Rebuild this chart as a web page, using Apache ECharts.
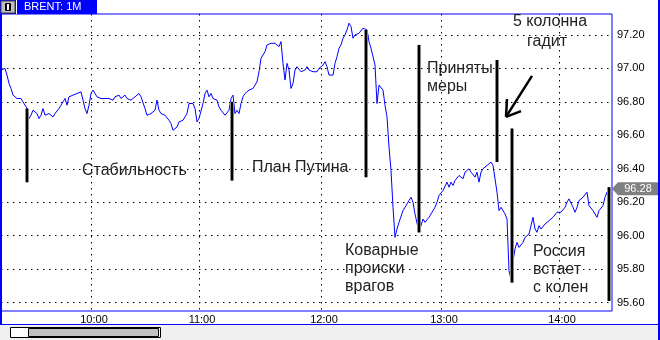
<!DOCTYPE html>
<html><head><meta charset="utf-8">
<script src="https://cdn.jsdelivr.net/npm/echarts@6/dist/echarts.min.js"></script>
<style>html,body{margin:0;padding:0;background:#fff}#c{width:660px;height:340px}</style>
</head><body><div id="c"></div>
<script>
// 1-minute bars of BRENT, index 0..304
const prices = [
 96.99,97.00,97.00,96.96,96.91,96.88,96.84,96.83,96.82,96.82,
 96.82,96.80,96.78,96.76,96.70,96.72,96.75,96.75,96.73,96.70,
 96.72,96.76,96.72,96.72,96.73,96.72,96.71,96.73,96.74,96.76,
 96.78,96.80,96.82,96.78,96.83,96.82,96.84,96.83,96.85,96.85,
 96.86,96.81,96.76,96.73,96.78,96.85,96.87,96.87,96.83,96.82,
 96.82,96.81,96.82,96.81,96.82,96.82,96.81,96.83,96.82,96.84,
 96.82,96.83,96.84,96.82,96.82,96.81,96.81,96.83,96.84,96.85,
 96.83,96.82,96.76,96.72,96.71,96.73,96.74,96.75,96.81,96.75,
 96.73,96.72,96.72,96.71,96.69,96.67,96.63,96.63,96.65,96.68,
 96.69,96.69,96.71,96.73,96.79,96.80,96.79,96.76,96.68,96.70,
 96.71,96.79,96.85,96.87,96.83,96.85,96.82,96.82,96.81,96.77,
 96.75,96.74,96.72,96.73,96.75,96.82,96.84,96.73,96.75,96.73,
 96.79,96.83,96.85,96.86,96.87,96.88,96.88,96.90,96.92,96.98,
 97.06,97.08,97.10,97.14,97.15,97.15,97.16,97.15,97.15,97.13,
 97.16,97.03,96.93,97.03,96.99,96.88,96.91,96.99,97.01,97.00,
 96.98,96.97,96.99,97.01,96.99,97.00,96.98,96.98,96.98,97.00,
 97.01,97.02,97.04,97.01,96.96,96.96,96.96,97.03,97.07,97.12,
 97.14,97.18,97.20,97.23,97.27,97.25,97.18,97.20,97.21,97.21,
 97.22,97.24,97.24,97.23,97.16,97.12,97.11,97.02,96.79,96.90,
 96.89,96.87,96.78,96.71,96.53,96.39,96.17,95.99,96.04,96.08,
 96.08,96.15,96.17,96.17,96.21,96.23,96.20,96.13,96.14,96.02,
 96.06,96.10,96.08,96.08,96.11,96.13,96.15,96.17,96.20,96.24,
 96.24,96.27,96.27,96.32,96.29,96.32,96.30,96.33,96.32,96.36,
 96.35,96.34,96.38,96.39,96.40,96.38,96.39,96.35,96.38,96.32,
 96.38,96.40,96.41,96.42,96.41,96.44,96.42,96.43,96.26,96.15,
 96.17,96.18,96.13,96.10,95.79,95.74,95.85,95.92,95.96,95.93,
 95.94,95.96,95.99,95.98,96.01,96.02,96.11,96.04,96.02,96.06,
 96.04,96.05,96.07,96.08,96.09,96.09,96.11,96.11,96.14,96.13,
 96.14,96.14,96.17,96.20,96.22,96.21,96.17,96.14,96.17,96.21,
 96.21,96.23,96.24,96.26,96.18,96.17,96.15,96.14,96.11,96.15,
 96.16,96.18,96.23,96.26,96.28
];
const yTicks = [95.6, 95.8, 96.0, 96.2, 96.4, 96.6, 96.8, 97.0, 97.2];
const hourTicks = [45, 99, 160, 220, 279];
const hourLabels = ['10:00', '11:00', '12:00', '13:00', '14:00'];
// hand-drawn marker strokes: bar, top price, bottom price
const markerBars   = [13,    115.5, 182.5, 209,   248,   255.5, 304];
const markerTop    = [96.76, 96.80, 97.23, 97.14, 97.05, 96.64, 96.29];
const markerBottom = [96.32, 96.33, 96.35, 96.02, 96.44, 95.72, 95.61];
// arrow: tail, tip, two barbs  [bar, price]
const arrowTail = [265.5, 96.955];
const arrowTip  = [252.5, 96.71];
const arrowBarb1 = [253, 96.817];
const arrowBarb2 = [260, 96.745];
const notes = [
  ['Стабильность', 82, 171],
  ['План Путина', 252, 168],
  ['Коварные', 345, 251], ['происки', 345, 269], ['врагов', 345, 287],
  ['Приняты', 427, 69], ['меры', 427, 87],
  ['5 колонна', 513, 22], ['гадит', 527, 42],
  ['Россия', 533, 252], ['встает', 533, 270], ['с колен', 533, 288]
];

const X_MIN = 0, X_MAX = 305.5, Y_MIN = 95.55, Y_MAX = 97.325;
const data = prices.map((p, i) => [i, p]);
const last = prices[prices.length - 1];
const BLUE = '#0000ff';
const FONT = '"Liberation Sans", Arial, sans-serif';

const markerSeg = (w, c) => markerBars.map((b, i) => [
  { coord: [b, markerTop[i]], lineStyle: { width: w, color: c, type: 'solid' } },
  { coord: [b, markerBottom[i]] }
]);
const arrowStyle = { width: 2.5, color: '#000', type: 'solid' };
const dotStyle = { color: '#000', width: 1, type: [1.5, 4.5] };

const chart = echarts.init(document.getElementById('c'), null, { renderer: 'canvas' });
chart.setOption({
  animation: false,
  backgroundColor: '#fff',
  grid: { left: 1, top: 14, width: 611, height: 297, show: true, borderColor: BLUE, borderWidth: 1, backgroundColor: 'transparent' },
  xAxis: {
    type: 'value', min: X_MIN, max: X_MAX,
    axisLine: { show: false },
    axisTick: { show: false, customValues: hourTicks },
    splitLine: { show: true, lineStyle: dotStyle },
    axisLabel: {
      customValues: hourTicks,
      formatter: v => hourLabels[hourTicks.indexOf(v)] || '',
      color: '#000', fontSize: 11, fontFamily: FONT, margin: 3, padding: [0, 0, 0, 6]
    }
  },
  yAxis: {
    type: 'value', position: 'right', min: Y_MIN, max: Y_MAX, scale: true,
    axisLine: { show: false },
    axisTick: { show: false, customValues: yTicks },
    splitLine: { show: true, lineStyle: dotStyle },
    axisLabel: {
      customValues: yTicks,
      formatter: v => v.toFixed(2),
      color: '#000', fontSize: 11, fontFamily: FONT, margin: 5
    }
  },
  series: [
    { // price line
      type: 'line', data, z: 3, showSymbol: false, symbol: 'none', silent: true, clip: false,
      lineStyle: { color: BLUE, width: 1 },
      markPoint: {
        silent: true, animation: false,
        symbol: 'path://M0,6L6,0L46,0L46,12L6,12Z', symbolSize: [46, 13], symbolOffset: [26, 0],
        itemStyle: { color: '#808080' },
        label: { show: true, position: 'inside', color: '#fff', fontSize: 11, fontFamily: FONT, offset: [3, 0],
                 formatter: () => last.toFixed(2) },
        data: [{ coord: [prices.length - 1, last] }]
      }
    },
    { // marker stroke halo
      type: 'line', data: [], z: 4, silent: true, clip: false,
      markLine: { silent: true, symbol: ['none', 'none'], label: { show: false }, animation: false,
        lineStyle: { type: 'solid' },
        emphasis: { disabled: true }, data: markerSeg(4, '#8a8a8a') }
    },
    { // marker strokes + arrow
      type: 'line', data: [], z: 5, silent: true, clip: false,
      markLine: { silent: true, symbol: ['none', 'none'], label: { show: false }, animation: false,
        lineStyle: { type: 'solid' },
        emphasis: { disabled: true },
        data: markerSeg(2, '#000').concat([
          [{ coord: arrowTail, lineStyle: arrowStyle }, { coord: arrowTip }],
          [{ coord: arrowTip, lineStyle: arrowStyle }, { coord: arrowBarb1 }],
          [{ coord: arrowTip, lineStyle: arrowStyle }, { coord: arrowBarb2 }]
        ]) }
    }
  ],
  graphic: [
    { type: 'rect', z: 100, shape: { x: 0, y: 0, width: 97, height: 14 }, style: { fill: BLUE } },
    { type: 'rect', z: 101, shape: { x: 1, y: 1, width: 14, height: 12 }, style: { fill: '#c0c0c0', stroke: '#404040', lineWidth: 1 } },
    { type: 'rect', z: 102, shape: { x: 5, y: 3, width: 6, height: 8, r: 1 }, style: { fill: '#000' } },
    { type: 'rect', z: 103, shape: { x: 7, y: 4, width: 2, height: 6 }, style: { fill: '#fff' } },
    { type: 'rect', z: 101, shape: { x: 16, y: 0, width: 1, height: 14 }, style: { fill: '#fff' } },
    { type: 'text', z: 102, x: 24, y: 7, style: { text: 'BRENT: 1M', fill: '#fff', font: '11px ' + FONT, verticalAlign: 'middle' } },
    { type: 'rect', z: 100, shape: { x: 0, y: 0, width: 2, height: 325 }, style: { fill: BLUE } },
    { type: 'rect', z: 100, shape: { x: 658, y: 0, width: 2, height: 340 }, style: { fill: BLUE } },
    { type: 'rect', z: 100, shape: { x: 0, y: 324, width: 660, height: 1 }, style: { fill: BLUE } },
    { type: 'rect', z: 100, shape: { x: 0, y: 325, width: 658, height: 15 }, style: { fill: '#f0f0f0' } },
    { type: 'rect', z: 101, shape: { x: 10.5, y: 327.5, width: 150, height: 10 }, style: { fill: '#fff', stroke: '#000', lineWidth: 1 } },
    { type: 'rect', z: 102, shape: { x: 28.5, y: 328.5, width: 130, height: 8 }, style: { fill: '#c0c0c0', stroke: '#000', lineWidth: 1 } }
  ].concat(notes.map(n => ({
    type: 'text', z: 110, x: n[1], y: n[2],
    style: { text: n[0], fill: '#222', font: '16px ' + FONT, verticalAlign: 'middle' }
  })))
});
</script>
</body></html>
